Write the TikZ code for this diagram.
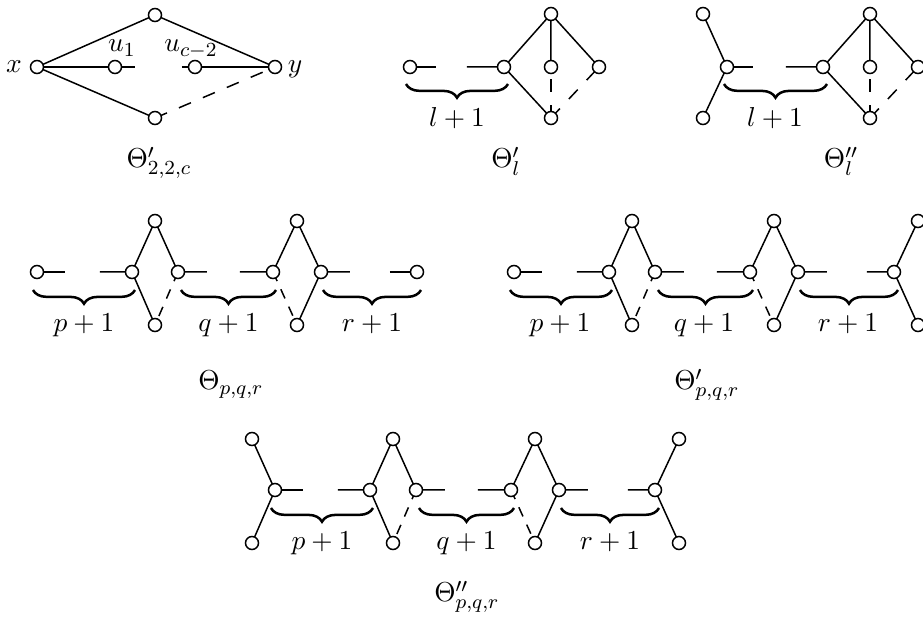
\documentclass[tikz,border=0pt]{standalone}
\usetikzlibrary{decorations.pathreplacing,backgrounds}
\begin{document}
\begin{tikzpicture}[x=0.4pt,y=-0.4pt,
  vertex/.style={circle,draw,fill=white,line width=0.6pt,inner sep=0pt,minimum size=5.2pt},
  edge/.style={line width=0.6pt},
  dlong/.style={edge,dash pattern=on 5.2pt off 5.2pt},
  dshort/.style={edge,dash pattern=on 4pt off 3.6pt},
  brc/.style={decorate,decoration={brace,mirror,amplitude=5.5pt},line width=1pt},
  lbl/.style={anchor=base,inner sep=0pt,font=\fontsize{10.95}{13}\selectfont}]
\useasboundingbox (0,0) rectangle (923,618);

% ---------- Figure 1 ----------
\node[vertex] (x0) at (37,67) {};
\node[vertex] (t0) at (155,15) {};
\node[vertex] (b0) at (155,118) {};
\node[vertex] (u1) at (115,67) {};
\node[vertex] (uc) at (195,67) {};
\node[vertex] (y0) at (275,67) {};
\coordinate (s11) at (135,67);
\coordinate (s12) at (182,67);
\node[lbl] (lx) at (14,72.5) {$x$};
\node[lbl] (ly) at (295,72.5) {$y$};
\node[lbl] (lu1) at (122,52) {$u_1$};
\node[lbl] (luc) at (191,52) {$u_{c-2}$};
\node[lbl] (cap1) at (159,168) {$\Theta'_{2,2,c}$};

% ---------- Figure 2 ----------
\node[vertex] (L2) at (410,67) {};
\node[vertex] (A2) at (504,67) {};
\node[vertex] (T2) at (551,14) {};
\node[vertex] (M2) at (551,67) {};
\node[vertex] (R2) at (599,67) {};
\node[vertex] (B2) at (551,118) {};
\coordinate (s21) at (436,67);
\coordinate (s22) at (467,67);
\coordinate (br2a) at (406,84);
\coordinate (br2b) at (508,84);
\node[lbl] (l2) at (457,127) {$l+1$};
\node[lbl] (cap2) at (506,168) {$\Theta'_l$};

% ---------- Figure 3 ----------
\node[vertex] (P3) at (703,14) {};
\node[vertex] (C3) at (727,67) {};
\node[vertex] (Q3) at (703,118) {};
\node[vertex] (A3) at (823,67) {};
\node[vertex] (T3) at (870,14) {};
\node[vertex] (M3) at (870,67) {};
\node[vertex] (R3) at (918,67) {};
\node[vertex] (B3) at (870,118) {};
\coordinate (s31) at (753,67);
\coordinate (s32) at (786,67);
\coordinate (br3a) at (724,84);
\coordinate (br3b) at (827,84);
\node[lbl] (l3) at (775,127) {$l+1$};
\node[lbl] (cap3) at (841,168) {$\Theta''_l$};

% ---------- Figure 4 ----------
\node[vertex] (L4) at (37,272) {};
\node[vertex] (A41) at (132,272) {};
\node[vertex] (T41) at (155,221) {};
\node[vertex] (B41) at (155,325) {};
\node[vertex] (C41) at (178,272) {};
\node[vertex] (A42) at (273,272) {};
\node[vertex] (T42) at (297,221) {};
\node[vertex] (B42) at (297,325) {};
\node[vertex] (C42) at (321,272) {};
\node[vertex] (E4) at (417,272) {};
\coordinate (s41) at (65,272);
\coordinate (s42) at (100,272);
\coordinate (s43) at (207,272);
\coordinate (s44) at (240,272);
\coordinate (s45) at (350,272);
\coordinate (s46) at (390,272);
\coordinate (b41a) at (33,290);
\coordinate (b41b) at (135,290);
\coordinate (b42a) at (181,290);
\coordinate (b42b) at (276,290);
\coordinate (b43a) at (323,290);
\coordinate (b43b) at (421,290);
\node[lbl] (l41) at (84,332) {$p+1$};
\node[lbl] (l42) at (228.5,332) {$q+1$};
\node[lbl] (l43) at (372,332) {$r+1$};
\node[lbl] (cap4) at (231,390) {$\Theta_{p,q,r}$};

% ---------- Figure 5 ----------
\node[vertex] (L5) at (514,272) {};
\node[vertex] (A51) at (609,272) {};
\node[vertex] (T51) at (632,221) {};
\node[vertex] (B51) at (632,325) {};
\node[vertex] (C51) at (655,272) {};
\node[vertex] (A52) at (750,272) {};
\node[vertex] (T52) at (774,221) {};
\node[vertex] (B52) at (774,325) {};
\node[vertex] (C52) at (798,272) {};
\node[vertex] (A53) at (894,272) {};
\node[vertex] (T53) at (918,221) {};
\node[vertex] (B53) at (918,325) {};
\coordinate (s51) at (542,272);
\coordinate (s52) at (577,272);
\coordinate (s53) at (684,272);
\coordinate (s54) at (717,272);
\coordinate (s55) at (827,272);
\coordinate (s56) at (867,272);
\coordinate (b51a) at (510,290);
\coordinate (b51b) at (612,290);
\coordinate (b52a) at (658,290);
\coordinate (b52b) at (753,290);
\coordinate (b53a) at (800,290);
\coordinate (b53b) at (898,290);
\node[lbl] (l51) at (560,332) {$p+1$};
\node[lbl] (l52) at (704,332) {$q+1$};
\node[lbl] (l53) at (848,332) {$r+1$};
\node[lbl] (cap5) at (707,390) {$\Theta'_{p,q,r}$};

% ---------- Figure 6 ----------
\node[vertex] (P6) at (252,439) {};
\node[vertex] (C60) at (275,490) {};
\node[vertex] (Q6) at (252,543) {};
\node[vertex] (A61) at (370,490) {};
\node[vertex] (T61) at (393,439) {};
\node[vertex] (B61) at (393,543) {};
\node[vertex] (C61) at (416,490) {};
\node[vertex] (A62) at (511,490) {};
\node[vertex] (T62) at (535,439) {};
\node[vertex] (B62) at (535,543) {};
\node[vertex] (C62) at (559,490) {};
\node[vertex] (A63) at (655,490) {};
\node[vertex] (T63) at (679,439) {};
\node[vertex] (B63) at (679,543) {};
\coordinate (s61) at (303,490);
\coordinate (s62) at (338,490);
\coordinate (s63) at (445,490);
\coordinate (s64) at (478,490);
\coordinate (s65) at (588,490);
\coordinate (s66) at (628,490);
\coordinate (b61a) at (271,508);
\coordinate (b61b) at (373,508);
\coordinate (b62a) at (419,508);
\coordinate (b62b) at (514,508);
\coordinate (b63a) at (561,508);
\coordinate (b63b) at (659,508);
\node[lbl] (l61) at (322,550) {$p+1$};
\node[lbl] (l62) at (466.5,550) {$q+1$};
\node[lbl] (l63) at (610,550) {$r+1$};
\node[lbl] (cap6) at (467,602) {$\Theta''_{p,q,r}$};

\begin{pgfonlayer}{background}
% fig 1
\draw[edge] (x0.center) -- (t0.center) -- (y0.center);
\draw[edge] (x0.center) -- (b0.center);
\draw[dlong] (b0.center) -- (y0.center);
\draw[edge] (x0.center) -- (u1.center) -- (s11);
\draw[edge] (s12) -- (uc.center) -- (y0.center);
% fig 2
\draw[edge] (L2.center) -- (s21);
\draw[edge] (s22) -- (A2.center) -- (T2.center) -- (M2.center);
\draw[edge] (T2.center) -- (R2.center);
\draw[edge] (A2.center) -- (B2.center);
\draw[dlong] (B2.center) -- (M2.center);
\draw[dlong] (B2.center) -- (R2.center);
\draw[brc] (br2a) -- (br2b);
% fig 3
\draw[edge] (P3.center) -- (C3.center) -- (Q3.center);
\draw[edge] (C3.center) -- (s31);
\draw[edge] (s32) -- (A3.center) -- (T3.center) -- (M3.center);
\draw[edge] (T3.center) -- (R3.center);
\draw[edge] (A3.center) -- (B3.center);
\draw[dlong] (B3.center) -- (M3.center);
\draw[dlong] (B3.center) -- (R3.center);
\draw[brc] (br3a) -- (br3b);
% fig 4
\draw[edge] (L4.center) -- (s41);
\draw[edge] (s42) -- (A41.center) -- (T41.center) -- (C41.center) -- (s43);
\draw[edge] (A41.center) -- (B41.center);
\draw[dshort] (C41.center) -- (B41.center);
\draw[edge] (s44) -- (A42.center) -- (T42.center) -- (C42.center) -- (s45);
\draw[edge] (C42.center) -- (B42.center);
\draw[dshort] (A42.center) -- (B42.center);
\draw[edge] (s46) -- (E4.center);
\draw[brc] (b41a) -- (b41b);
\draw[brc] (b42a) -- (b42b);
\draw[brc] (b43a) -- (b43b);
% fig 5
\draw[edge] (L5.center) -- (s51);
\draw[edge] (s52) -- (A51.center) -- (T51.center) -- (C51.center) -- (s53);
\draw[edge] (A51.center) -- (B51.center);
\draw[dshort] (C51.center) -- (B51.center);
\draw[edge] (s54) -- (A52.center) -- (T52.center) -- (C52.center) -- (s55);
\draw[edge] (C52.center) -- (B52.center);
\draw[dshort] (A52.center) -- (B52.center);
\draw[edge] (s56) -- (A53.center) -- (T53.center);
\draw[edge] (A53.center) -- (B53.center);
\draw[brc] (b51a) -- (b51b);
\draw[brc] (b52a) -- (b52b);
\draw[brc] (b53a) -- (b53b);
% fig 6
\draw[edge] (P6.center) -- (C60.center) -- (Q6.center);
\draw[edge] (C60.center) -- (s61);
\draw[edge] (s62) -- (A61.center) -- (T61.center) -- (C61.center) -- (s63);
\draw[edge] (A61.center) -- (B61.center);
\draw[dshort] (C61.center) -- (B61.center);
\draw[edge] (s64) -- (A62.center) -- (T62.center) -- (C62.center) -- (s65);
\draw[edge] (C62.center) -- (B62.center);
\draw[dshort] (A62.center) -- (B62.center);
\draw[edge] (s66) -- (A63.center) -- (T63.center);
\draw[edge] (A63.center) -- (B63.center);
\draw[brc] (b61a) -- (b61b);
\draw[brc] (b62a) -- (b62b);
\draw[brc] (b63a) -- (b63b);
\end{pgfonlayer}
\end{tikzpicture}
\end{document}
